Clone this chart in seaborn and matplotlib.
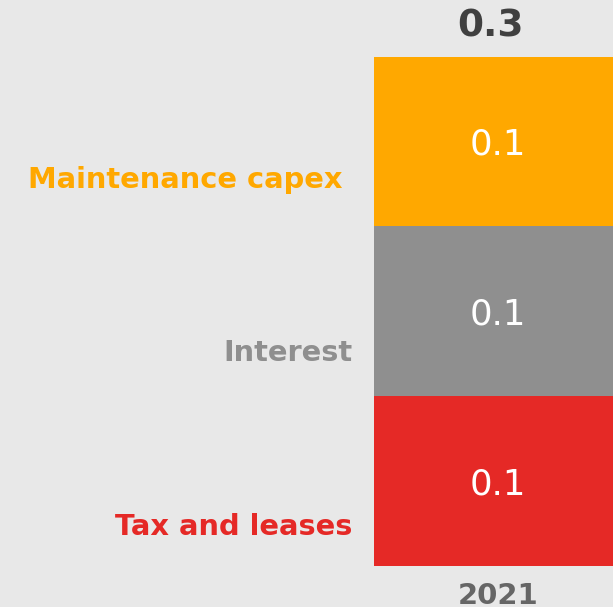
import matplotlib
matplotlib.use("Agg")
import matplotlib.pyplot as plt
import numpy as np
import pandas as pd
import seaborn as sns

# data, bottom to top
year = "2021"
segments = ["Tax and leases", "Interest", "Maintenance capex "]
values = [0.1, 0.1, 0.1]
total = 0.3

seg_colors = ["#E52926", "#8F8F8F", "#FFA800"]
label_drop = [39, 36, 33.5]  # points below segment middle for the side labels
bg = "#E8E8E8"

sns.set_theme(style="white")
plt.rcParams["font.family"] = ["DejaVu Sans"]

fig = plt.figure(figsize=(6.13, 6.07), dpi=100, facecolor=bg)
ax = fig.add_axes([374 / 613, 41.3 / 607, 248 / 613, 509 / 607])
ax.set_facecolor(bg)

# stacked bar: draw cumulative heights top-down so each overlays the one above
tops = np.cumsum(values)
for i in reversed(range(len(segments))):
    df = pd.DataFrame({"year": [year], "value": [tops[i]]})
    sns.barplot(data=df, x="year", y="value", color=seg_colors[i],
                saturation=1, width=1, linewidth=0, ax=ax)

ax.set_xlim(-0.5, 0.5)
ax.set_ylim(0, total)
ax.set_xlabel("")
ax.set_ylabel("")
ax.set_yticks([])
ax.tick_params(axis="x", length=0, pad=11.5)
for lbl in ax.get_xticklabels():
    lbl.set_fontsize(21)
    lbl.set_fontweight("bold")
    lbl.set_color("#666666")
sns.despine(ax=ax, left=True, bottom=True)

bottoms = tops - np.array(values)
trans = matplotlib.transforms.blended_transform_factory(ax.transAxes, ax.transData)
for i, (name, v) in enumerate(zip(segments, values)):
    mid = bottoms[i] + v / 2
    # value inside the segment
    ax.annotate(f"{v:.1f}", (0, mid), xytext=(0, -9.6), textcoords="offset points",
                ha="center", va="baseline", color="white", fontsize=25.5)
    # category label to the left of the bar
    ax.annotate(name, (-22 / 248, mid), xycoords=trans, xytext=(0, -label_drop[i]),
                textcoords="offset points", ha="right", va="baseline",
                color=seg_colors[i], fontsize=20.8, fontweight="bold",
                annotation_clip=False)

# total on top
ax.annotate(f"{total:.1f}", (0, total), xytext=(-5.5, 14.4), textcoords="offset points",
            ha="center", va="baseline", color="#404040", fontsize=27,
            fontweight="bold", annotation_clip=False)

fig.savefig("out.png", dpi=100, facecolor=bg)
